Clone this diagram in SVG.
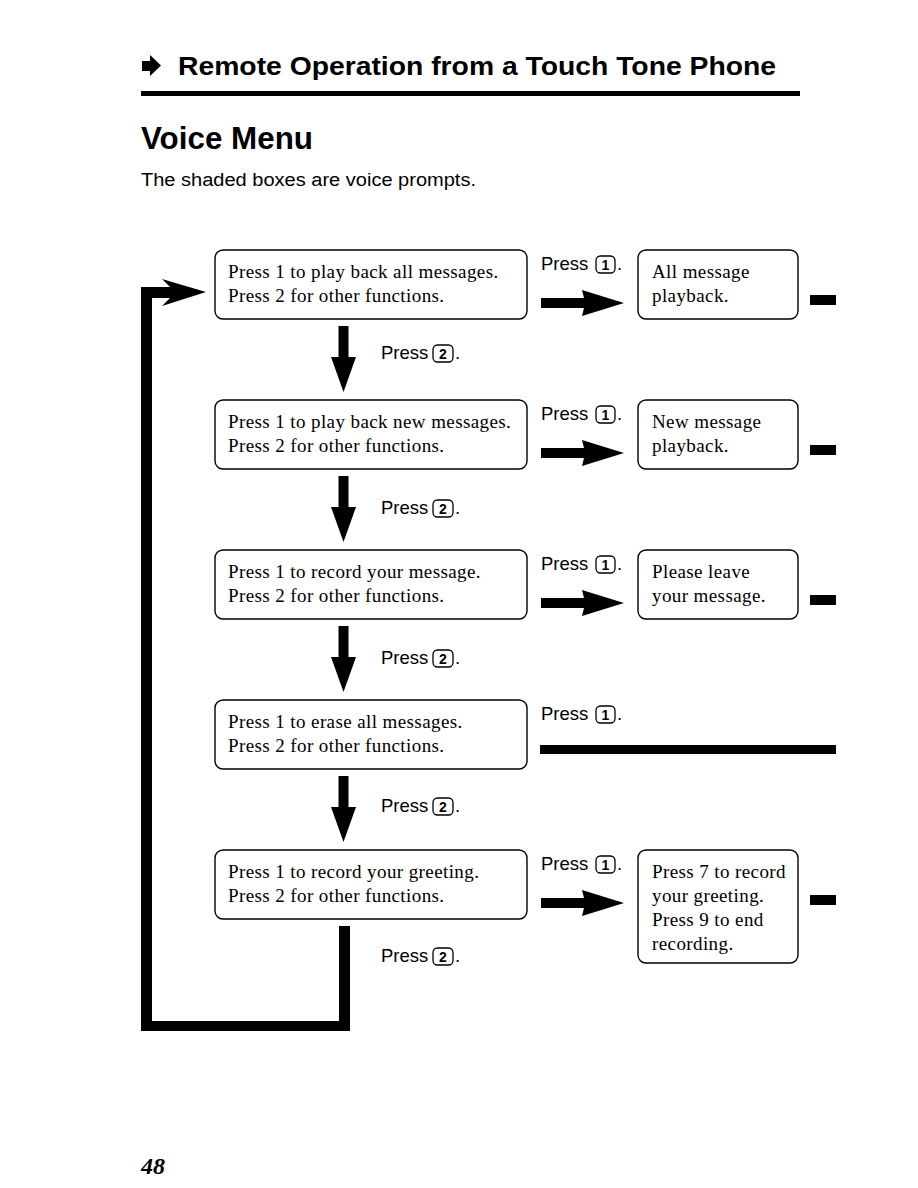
<svg xmlns="http://www.w3.org/2000/svg" width="918" height="1188" viewBox="0 0 918 1188">
<style>
.box{fill:#fff;stroke:#000;stroke-width:1.4}
.key{fill:#fff;stroke:#000;stroke-width:1.3}
.serif{font-family:"Liberation Serif","Times New Roman",serif;font-size:19px;letter-spacing:0.4px;fill:#000}
.sans{font-family:"Liberation Sans",Arial,sans-serif;font-size:18.5px;fill:#000}
.keyt{font-family:"Liberation Sans",Arial,sans-serif;font-size:14px;font-weight:bold;fill:#000;text-anchor:middle}
.blk{fill:#000}
</style>
<defs>
<g id="press1">
<text class="sans" x="0" y="0">Press</text>
<rect class="key" x="55" y="-14" width="19" height="17" rx="4.5"/>
<text class="keyt" x="64.5" y="0">1</text>
<text class="sans" x="76" y="0">.</text>
</g>
<g id="press2">
<text class="sans" x="0" y="0">Press</text>
<rect class="key" x="52" y="-14" width="20" height="17" rx="4.5"/>
<text class="keyt" x="62" y="0">2</text>
<text class="sans" x="74" y="0">.</text>
</g>
<polygon id="rarrow" points="541,298 584,298 582,290 624,303 582,316 584,308 541,308"/>
<polygon id="darrow" points="338.5,326 348.5,326 348.5,357 356,357 343.5,392 331,357 338.5,357"/>
</defs>
<rect width="918" height="1188" fill="#fff"/>

<g id="header">
<polygon class="blk" points="142,61 150,61 150,55 161,65.5 150,76 150,71 142,71"/>
<text x="178" y="75" font-family="Liberation Sans,Arial,sans-serif" font-weight="bold" font-size="26" textLength="598" lengthAdjust="spacingAndGlyphs">Remote Operation from a Touch Tone Phone</text>
<rect class="blk" x="141" y="91" width="659" height="5"/>
<text x="141" y="149" font-family="Liberation Sans,Arial,sans-serif" font-weight="bold" font-size="31" textLength="172" lengthAdjust="spacingAndGlyphs">Voice Menu</text>
<text x="141" y="186" font-family="Liberation Sans,Arial,sans-serif" font-size="18" textLength="335" lengthAdjust="spacingAndGlyphs">The shaded boxes are voice prompts.</text>
</g>

<g id="menu1">
<rect class="box" x="215" y="250" width="312" height="69" rx="8"/>
<text class="serif" x="228" y="278">Press 1 to play back all messages.</text>
<text class="serif" x="228" y="302">Press 2 for other functions.</text>
</g>
<g id="menu2">
<rect class="box" x="215" y="400" width="312" height="69" rx="8"/>
<text class="serif" x="228" y="428">Press 1 to play back new messages.</text>
<text class="serif" x="228" y="452">Press 2 for other functions.</text>
</g>
<g id="menu3">
<rect class="box" x="215" y="550" width="312" height="69" rx="8"/>
<text class="serif" x="228" y="578">Press 1 to record your message.</text>
<text class="serif" x="228" y="602">Press 2 for other functions.</text>
</g>
<g id="menu4">
<rect class="box" x="215" y="700" width="312" height="69" rx="8"/>
<text class="serif" x="228" y="728">Press 1 to erase all messages.</text>
<text class="serif" x="228" y="752">Press 2 for other functions.</text>
</g>
<g id="menu5">
<rect class="box" x="215" y="850" width="312" height="69" rx="8"/>
<text class="serif" x="228" y="878">Press 1 to record your greeting.</text>
<text class="serif" x="228" y="902">Press 2 for other functions.</text>
</g>

<g id="result1">
<rect class="box" x="638" y="250" width="160" height="69" rx="8"/>
<text class="serif" x="652" y="278">All message</text>
<text class="serif" x="652" y="302">playback.</text>
</g>
<g id="result2">
<rect class="box" x="638" y="400" width="160" height="69" rx="8"/>
<text class="serif" x="652" y="428">New message</text>
<text class="serif" x="652" y="452">playback.</text>
</g>
<g id="result3">
<rect class="box" x="638" y="550" width="160" height="69" rx="8"/>
<text class="serif" x="652" y="578">Please leave</text>
<text class="serif" x="652" y="602">your message.</text>
</g>
<g id="result5">
<rect class="box" x="638" y="850" width="160" height="113" rx="8"/>
<text class="serif" x="652" y="878">Press 7 to record</text>
<text class="serif" x="652" y="902">your greeting.</text>
<text class="serif" x="652" y="926">Press 9 to end</text>
<text class="serif" x="652" y="950">recording.</text>
</g>

<g id="connectors">
<use href="#press1" x="541" y="270"/>
<use href="#press1" x="541" y="420"/>
<use href="#press1" x="541" y="570"/>
<use href="#press1" x="541" y="720"/>
<use href="#press1" x="541" y="870"/>
<use href="#rarrow" class="blk"/>
<use href="#rarrow" class="blk" y="150"/>
<use href="#rarrow" class="blk" y="300"/>
<use href="#rarrow" class="blk" y="600"/>
<rect class="blk" x="540" y="745" width="296" height="9"/>
<rect class="blk" x="810" y="295" width="26" height="10"/>
<rect class="blk" x="810" y="445" width="26" height="10"/>
<rect class="blk" x="810" y="595" width="26" height="10"/>
<rect class="blk" x="810" y="895" width="26" height="10"/>
<use href="#darrow" class="blk"/>
<use href="#darrow" class="blk" y="150"/>
<use href="#darrow" class="blk" y="300"/>
<use href="#darrow" class="blk" y="450"/>
<use href="#press2" x="381" y="359"/>
<use href="#press2" x="381" y="514"/>
<use href="#press2" x="381" y="664"/>
<use href="#press2" x="381" y="812"/>
<use href="#press2" x="381" y="962"/>
<polygon class="blk" points="339,926 350,926 350,1031 141,1031 141,287 170,287 162,279 206,292 162,306 170,298 152,298 152,1021 339,1021"/>
</g>

<text x="141" y="1174" font-family="Liberation Serif,'Times New Roman',serif" font-weight="bold" font-style="italic" font-size="24">48</text>
</svg>
